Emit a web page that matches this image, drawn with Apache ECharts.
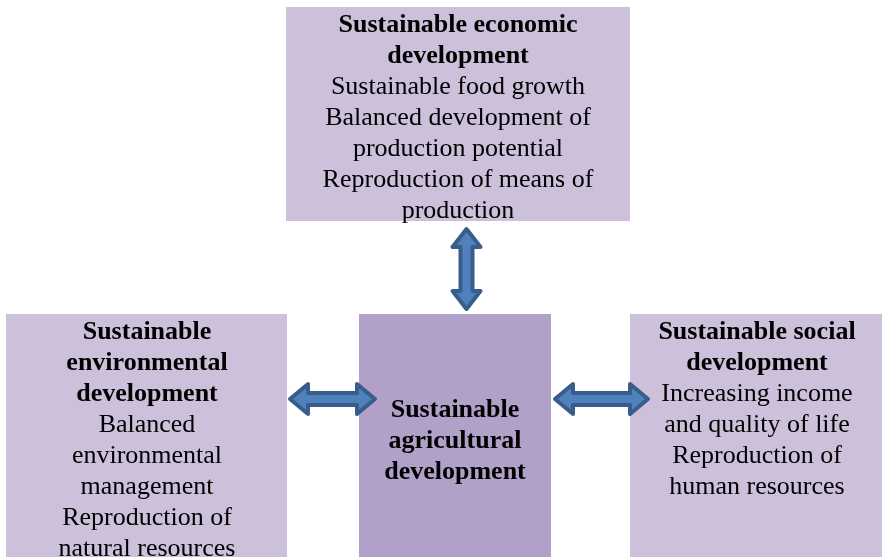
<!DOCTYPE html>
<html>
<head>
<meta charset="utf-8">
<script src="https://cdn.jsdelivr.net/npm/echarts@6/dist/echarts.min.js"></script>
<style>
  html, body { margin: 0; padding: 0; background: #fff; }
  #main { width: 882px; height: 557px; }
</style>
</head>
<body>
<div id="main"></div>
<script>
// box texts: bold heading lines, then plain lines
const economicTitle = ['Sustainable economic', 'development']
const economicItems = ['Sustainable food growth', 'Balanced development of', 'production potential', 'Reproduction of means of', 'production']

const environmentTitle = ['Sustainable', 'environmental', 'development']
const environmentItems = ['Balanced', 'environmental', 'management', 'Reproduction of', 'natural resources']

const socialTitle = ['Sustainable social', 'development']
const socialItems = ['Increasing income', 'and quality of life', 'Reproduction of', 'human resources']

const centerTitle = ['Sustainable', 'agricultural', 'development']

const outerColor = '#CCC0DA'
const centerColor = '#B1A0C7'
const arrowFill = '#4F81BD'
const arrowStroke = '#385D8A'
const fontFamily = '"Liberation Serif", "Times New Roman", serif'

const chart = echarts.init(document.getElementById('main'))

function boxText(cx, top, title, items) {
  const lines = title.map(t => '{b|' + t + '}').concat(items.map(t => '{n|' + t + '}'))
  return {
    type: 'text',
    x: cx,
    y: top,
    z: 10,
    style: {
      text: lines.join('\n'),
      align: 'center',
      verticalAlign: 'top',
      fill: '#000',
      rich: {
        b: { fontFamily: fontFamily, fontSize: 26, fontWeight: 'bold', lineHeight: 31, fill: '#000', align: 'center' },
        n: { fontFamily: fontFamily, fontSize: 26, lineHeight: 31, fill: '#000', align: 'center' }
      }
    }
  }
}

function box(x, y, w, h, color) {
  return {
    type: 'rect',
    shape: { x: x, y: y, width: w, height: h },
    style: { fill: color }
  }
}

// double headed arrows
function hArrow(x1, x2, cy) {
  const hl = 18, hh = 15, sh = 6
  return {
    type: 'polygon',
    z: 5,
    shape: {
      points: [
        [x1, cy], [x1 + hl, cy - hh], [x1 + hl, cy - sh], [x2 - hl, cy - sh], [x2 - hl, cy - hh],
        [x2, cy], [x2 - hl, cy + hh], [x2 - hl, cy + sh], [x1 + hl, cy + sh], [x1 + hl, cy + hh]
      ]
    },
    style: { fill: arrowFill, stroke: arrowStroke, lineWidth: 4, lineJoin: 'round' }
  }
}

function vArrow(cx, y1, y2) {
  const hl = 18, hh = 14, sh = 6
  return {
    type: 'polygon',
    z: 5,
    shape: {
      points: [
        [cx, y1], [cx + hh, y1 + hl], [cx + sh, y1 + hl], [cx + sh, y2 - hl], [cx + hh, y2 - hl],
        [cx, y2], [cx - hh, y2 - hl], [cx - sh, y2 - hl], [cx - sh, y1 + hl], [cx - hh, y1 + hl]
      ]
    },
    style: { fill: arrowFill, stroke: arrowStroke, lineWidth: 4, lineJoin: 'round' }
  }
}

var option = {
  backgroundColor: '#ffffff',
  graphic: [
    box(286, 7, 344, 214, outerColor),
    box(6, 314, 281, 250, outerColor),
    box(359, 314, 192, 250, centerColor),
    box(630, 314, 260, 250, outerColor),
    boxText(458, 10, economicTitle, economicItems),
    boxText(147, 317, environmentTitle, environmentItems),
    boxText(455, 395, centerTitle, []),
    boxText(757, 317, socialTitle, socialItems),
    vArrow(466.5, 229, 309),
    hArrow(290, 375, 399),
    hArrow(555, 648, 399)
  ]
}

chart.setOption(option)
</script>
</body>
</html>
